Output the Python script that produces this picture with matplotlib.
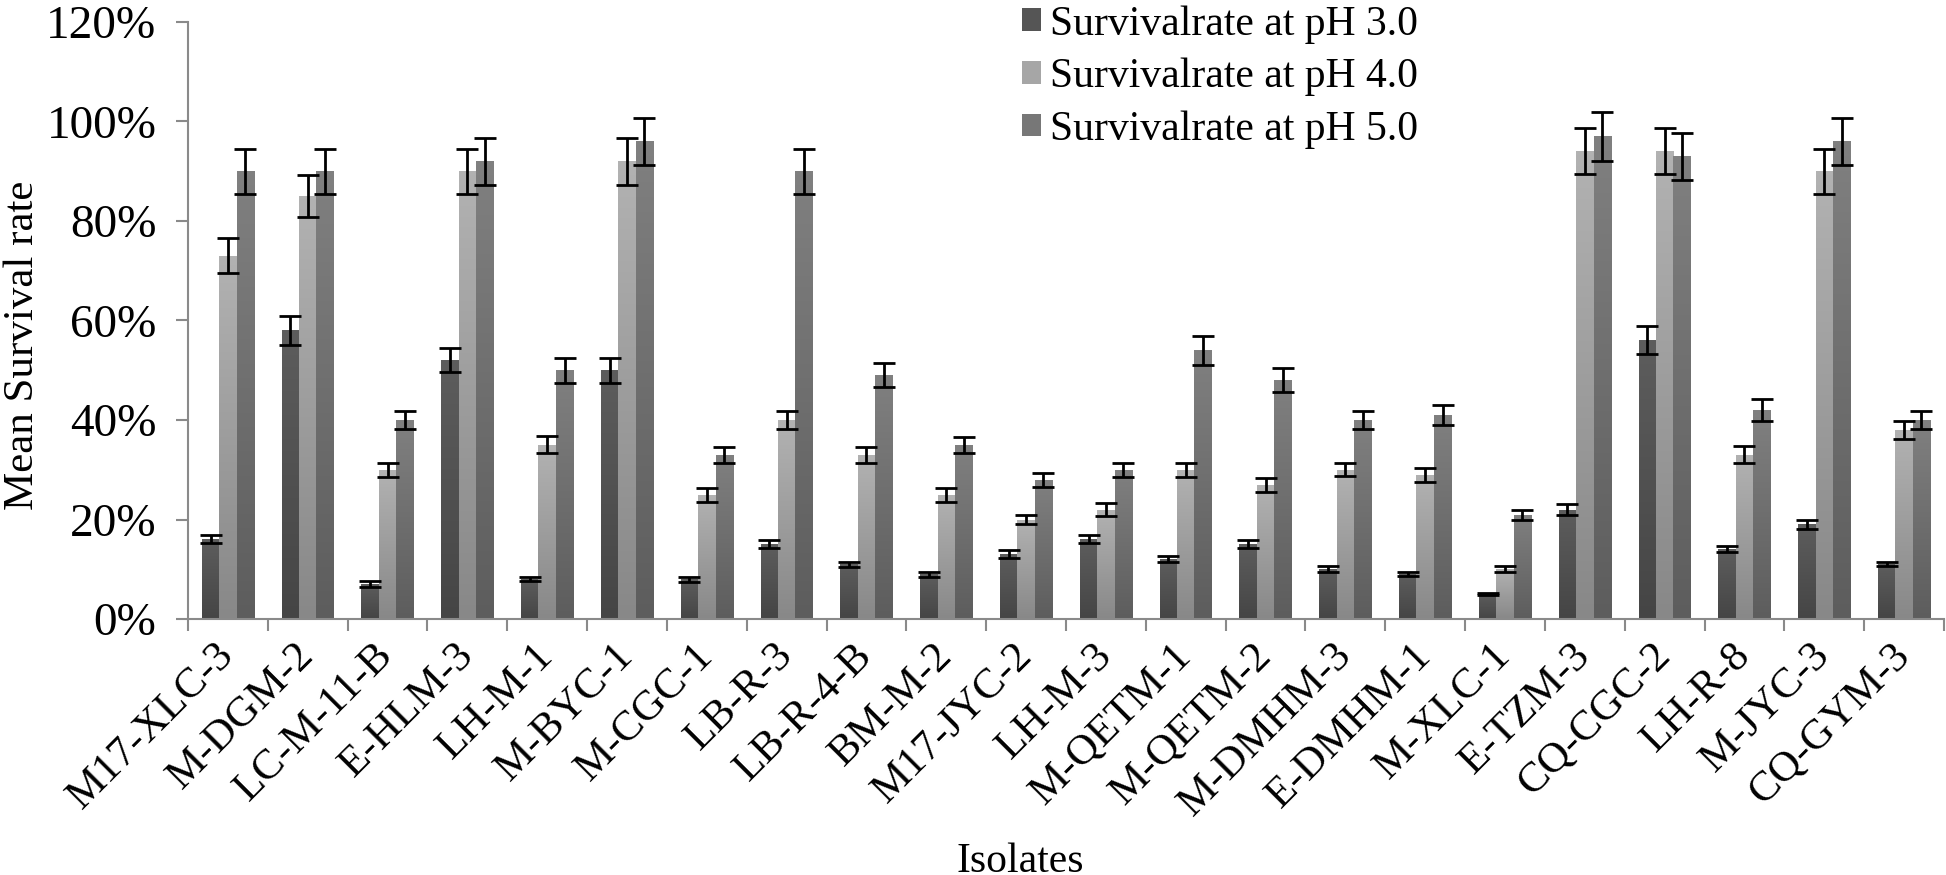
import numpy as np
import matplotlib
matplotlib.use('Agg')
import matplotlib.pyplot as plt
from matplotlib.colors import LinearSegmentedColormap
from matplotlib.ticker import PercentFormatter, MultipleLocator

plt.rcParams['font.family'] = ['Liberation Serif', 'DejaVu Serif']

isolates = ["M17-XLC-3", "M-DGM-2", "LC-M-11-B", "E-HLM-3", "LH-M-1", "M-BYC-1",
            "M-CGC-1", "LB-R-3", "LB-R-4-B", "BM-M-2", "M17-JYC-2", "LH-M-3",
            "M-QETM-1", "M-QETM-2", "M-DMHM-3", "E-DMHM-1", "M-XLC-1", "E-TZM-3",
            "CQ-CGC-2", "LH-R-8", "M-JYC-3", "CQ-GYM-3"]

# mean survival (%) and error at each pH
ph3 = [16, 58, 7, 52, 8, 50, 8, 15, 11, 9, 13, 16, 12, 15, 10, 9, 5, 22, 56, 14, 19, 11]
ph3_err = [0.8, 2.9, 0.6, 2.4, 0.4, 2.5, 0.5, 0.8, 0.5, 0.5, 0.8, 0.8, 0.6, 0.8, 0.6, 0.4, 0.2, 1.1, 2.8, 0.6, 1.0, 0.4]
ph4 = [73, 85, 30, 90, 35, 92, 25, 40, 33, 25, 20, 22, 30, 27, 30, 29, 10, 94, 94, 33, 90, 38]
ph4_err = [3.5, 4.2, 1.4, 4.5, 1.7, 4.7, 1.4, 1.9, 1.6, 1.4, 1.0, 1.3, 1.4, 1.4, 1.3, 1.4, 0.6, 4.6, 4.6, 1.7, 4.5, 1.8]
ph5 = [90, 90, 40, 92, 50, 96, 33, 90, 49, 35, 28, 30, 54, 48, 40, 41, 21, 97, 93, 42, 96, 40]
ph5_err = [4.5, 4.5, 1.8, 4.7, 2.5, 4.7, 1.6, 4.5, 2.4, 1.6, 1.4, 1.4, 2.9, 2.4, 1.8, 2.0, 1.0, 4.9, 4.7, 2.2, 4.7, 1.8]

series = [
    ("Survivalrate at pH 3.0", ph3, ph3_err, "#555555", ("#454545", "#5d5d5d")),
    ("Survivalrate at pH 4.0", ph4, ph4_err, "#a6a6a6", ("#888888", "#b2b2b2")),
    ("Survivalrate at pH 5.0", ph5, ph5_err, "#777777", ("#5d5d5d", "#808080")),
]

W, H = 1946, 875
fig = plt.figure(figsize=(W / 100, H / 100), dpi=100)
ax = fig.add_axes([188 / W, 1 - 619 / H, (1944 - 188) / W, (619 - 22) / H])

x = np.arange(len(isolates))
bw = 0.218
grad = np.linspace(0, 1, 128).reshape(-1, 1)

for k, (label, vals, errs, col, (c0, c1)) in enumerate(series):
    v = np.array(vals) / 100
    e = np.array(errs) / 100
    bars = ax.bar(x + (k - 1) * bw, v, bw, color=col, label=label, zorder=2)
    cmap = LinearSegmentedColormap.from_list("g%d" % k, [c0, c1])
    for p in bars:
        im = ax.imshow(grad, cmap=cmap, origin='lower', aspect='auto', zorder=2.5,
                       extent=[p.get_x(), p.get_x() + p.get_width(), 0, p.get_height()])
        im.set_clip_path(p)
    ax.errorbar(x + (k - 1) * bw, v, yerr=e, fmt='none', ecolor='black',
                elinewidth=2, capsize=8, capthick=2, zorder=3)

ax.set_xlim(-0.5, len(isolates) - 0.5)
ax.set_ylim(0, 1.2)
ax.yaxis.set_major_locator(MultipleLocator(0.2))
ax.yaxis.set_major_formatter(PercentFormatter(1.0, decimals=0))

for s in ['top', 'right']:
    ax.spines[s].set_visible(False)
for s in ['left', 'bottom']:
    ax.spines[s].set_color('#8a8a8a')
    ax.spines[s].set_linewidth(1.5)

ax.set_xticks(x)
ax.set_xticks(np.arange(len(isolates) + 1) - 0.5, minor=True)
ax.tick_params(axis='x', which='major', length=0, pad=22)
ax.tick_params(axis='x', which='minor', length=8.6, width=1.5, color='#8a8a8a')
ax.tick_params(axis='y', length=8.6, width=1.5, color='#8a8a8a', pad=14, labelsize=34)
ax.set_xticklabels(isolates, rotation=45, ha='right', va='center',
                   rotation_mode='anchor', fontsize=31)

fig.text(23 / W, 1 - 345 / H, "Mean Survival rate", rotation=90,
         ha='center', va='center', fontsize=31)
fig.text(1020 / W, 1 - 843 / H, "Isolates", ha='center', va='top', fontsize=30)

fig.legend(loc='upper left', bbox_to_anchor=(1022 / W, 1 - 5 / H), frameon=False,
           fontsize=30, handlelength=0.45, handleheight=0.45, handletextpad=0.22,
           labelspacing=0.34, borderpad=0, borderaxespad=0)

fig.savefig("out.png", dpi=100)
